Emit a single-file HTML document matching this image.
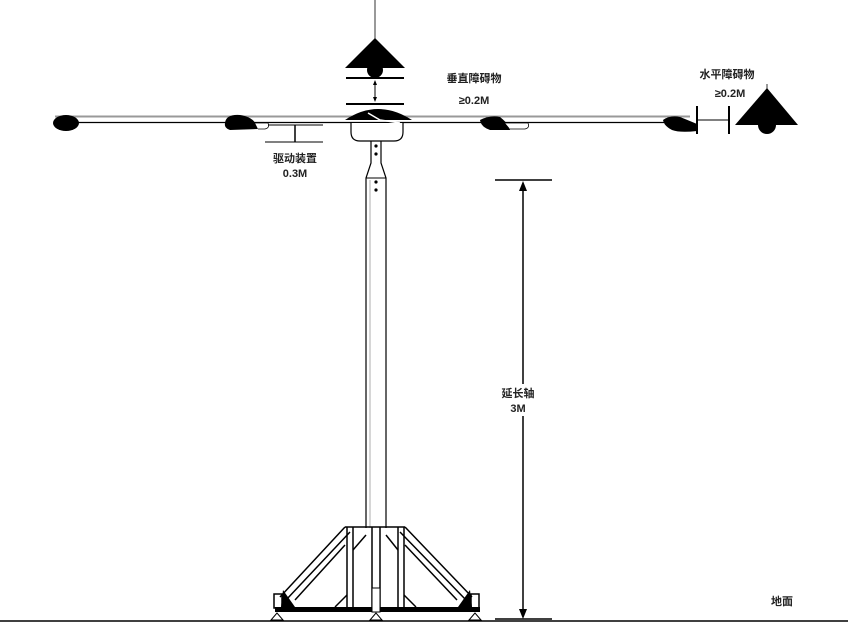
<!DOCTYPE html>
<html><head><meta charset="utf-8"><style>
html,body{margin:0;padding:0;background:#fff;}
svg{display:block}
text{font-family:"Liberation Sans","Noto Sans CJK SC",sans-serif;font-size:11px;font-weight:bold;fill:#222;text-anchor:middle}
</style></head><body>
<svg width="848" height="636" viewBox="0 0 848 636" xmlns="http://www.w3.org/2000/svg">
<!-- top obstacle -->
<line x1="375" y1="0" x2="375" y2="40" stroke="#333" stroke-width="1"/>
<polygon points="375,38 345,68 405,68" fill="#000"/>
<circle cx="375" cy="70" r="8" fill="#000"/>
<line x1="346" y1="78" x2="404" y2="78" stroke="#000" stroke-width="2"/>
<line x1="375" y1="82" x2="375" y2="100" stroke="#000" stroke-width="1"/>
<polygon points="375,80 373,85 377,85" fill="#000"/>
<polygon points="375,102 373,97 377,97" fill="#000"/>
<line x1="346" y1="104" x2="404" y2="104" stroke="#000" stroke-width="2"/>
<!-- blade bar -->
<line x1="55" y1="116.5" x2="690" y2="116.5" stroke="#999" stroke-width="2"/>
<line x1="55" y1="122.5" x2="690" y2="122.5" stroke="#000" stroke-width="1.2"/>
<!-- hub dome -->
<path d="M345,120 Q378,98 412,120 Z" fill="#000"/>
<path d="M368,113 L380,120 L400,123" stroke="#fff" stroke-width="1.5" fill="none"/>
<!-- blades -->
<ellipse cx="66" cy="123" rx="13" ry="8" fill="#000"/>
<path d="M225,123 Q226,114 240,115 Q255,117 258,129 L230,130 Q224,128 225,123Z" fill="#000"/>
<path d="M255,123 L268,123 Q270,128 265,129 L258,129" fill="#fff" stroke="#000" stroke-width="0.8"/>
<path d="M480,120 Q490,115 500,117 Q510,125 510,130 L490,130 Q481,127 480,120Z" fill="#000"/>
<path d="M505,123 L528,123 Q530,128 525,129 L510,129" fill="#fff" stroke="#000" stroke-width="0.8"/>
<path d="M663,120 Q670,115 680,117 Q690,121 697,124 L697,131 Q680,133 672,130 Q664,126 663,120Z" fill="#000"/>
<!-- housing -->
<path d="M351,123 L351,132 Q351,141 360,141 L394,141 Q403,141 403,132 L403,123" fill="#fff" stroke="#000" stroke-width="1.2"/>
<!-- shaft -->
<path d="M371,141 L371,163 L366,178 L366,528 M381,141 L381,163 L386,178 L386,528" fill="none" stroke="#000" stroke-width="1.2"/>
<line x1="366" y1="178" x2="386" y2="178" stroke="#000" stroke-width="1"/>
<circle cx="376" cy="146" r="1.6" fill="#000"/>
<circle cx="376" cy="154" r="1.6" fill="#000"/>
<circle cx="376" cy="182" r="1.6" fill="#000"/>
<circle cx="376" cy="190" r="1.6" fill="#000"/>
<line x1="370" y1="180" x2="370" y2="528" stroke="#999" stroke-width="0.8"/>
<!-- drive device dim -->
<line x1="268" y1="125" x2="323" y2="125" stroke="#000" stroke-width="1"/>
<line x1="265" y1="142" x2="323" y2="142" stroke="#000" stroke-width="1"/>
<line x1="295" y1="125" x2="295" y2="142" stroke="#000" stroke-width="1.5"/>
<text x="295" y="162">驱动装置</text>
<text x="295" y="177">0.3M</text>
<!-- vertical obstacle text -->
<text x="474" y="82">垂直障碍物</text>
<text x="474" y="104">≥0.2M</text>
<!-- horizontal obstacle -->
<text x="727" y="78">水平障碍物</text>
<text x="730" y="97">≥0.2M</text>
<line x1="697" y1="106" x2="697" y2="134" stroke="#000" stroke-width="2"/>
<line x1="697" y1="120" x2="729" y2="120" stroke="#000" stroke-width="1"/>
<line x1="729" y1="106" x2="729" y2="134" stroke="#000" stroke-width="2"/>
<line x1="767" y1="84" x2="767" y2="92" stroke="#333" stroke-width="1"/>
<polygon points="767,88 735,125 798,125" fill="#000"/>
<circle cx="767" cy="125" r="9" fill="#000"/>
<!-- height dim -->
<line x1="495" y1="180" x2="552" y2="180" stroke="#000" stroke-width="1.5"/>
<line x1="523" y1="186" x2="523" y2="614" stroke="#000" stroke-width="1.5"/>
<polygon points="523,181 519,191 527,191" fill="#000"/>
<polygon points="523,619 519,609 527,609" fill="#000"/>
<line x1="495" y1="619" x2="552" y2="619" stroke="#000" stroke-width="1.5"/>
<rect x="498" y="384" width="50" height="32" fill="#fff"/>
<text x="518" y="397">延长轴</text>
<text x="518" y="412">3M</text>
<!-- base -->
<g stroke="#000" fill="none" stroke-width="1.5">
<line x1="345" y1="527" x2="405" y2="527"/>
<line x1="345" y1="527" x2="280" y2="597"/>
<line x1="350" y1="532" x2="286" y2="600"/>
<line x1="345" y1="545" x2="295" y2="600"/>
<line x1="405" y1="527" x2="472" y2="597"/>
<line x1="400" y1="532" x2="466" y2="600"/>
<line x1="405" y1="545" x2="457" y2="600"/>
<line x1="347" y1="527" x2="347" y2="607"/>
<line x1="353" y1="527" x2="353" y2="607"/>
<line x1="398" y1="527" x2="398" y2="607"/>
<line x1="404" y1="527" x2="404" y2="607"/>
<line x1="372" y1="527" x2="372" y2="607"/>
<line x1="380" y1="527" x2="380" y2="607"/>
<line x1="366" y1="535" x2="353" y2="550"/>
<line x1="386" y1="535" x2="398" y2="550"/>
<line x1="347" y1="595" x2="335" y2="607"/>
<line x1="404" y1="595" x2="416" y2="607"/>
<rect x="274" y="594" width="8" height="14"/>
<rect x="471" y="594" width="8" height="14"/>
</g>
<path d="M283,590 L295,607 L281,607Z" fill="#000"/>
<path d="M470,590 L458,607 L472,607Z" fill="#000"/>
<rect x="275" y="607" width="205" height="5" fill="#000"/>
<rect x="372" y="588" width="8" height="24" fill="#fff" stroke="#000"/>
<polygon points="277,613 271,620 283,620" fill="#fff" stroke="#000"/>
<polygon points="376,613 370,620 382,620" fill="#fff" stroke="#000"/>
<polygon points="475,613 469,620 481,620" fill="#fff" stroke="#000"/>
<!-- ground -->
<line x1="0" y1="621" x2="848" y2="621" stroke="#000" stroke-width="1.5"/>
<text x="782" y="605">地面</text>
</svg>
</body></html>
